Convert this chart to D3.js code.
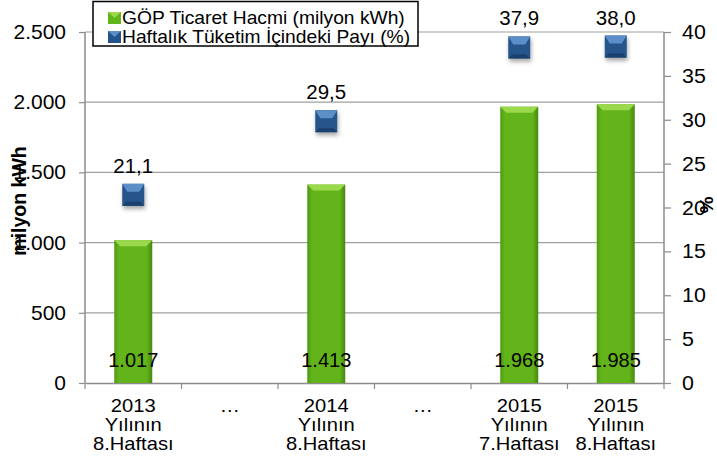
<!DOCTYPE html>
<html><head><meta charset="utf-8">
<script src="https://cdn.jsdelivr.net/npm/d3@7"></script>
<style>html,body{margin:0;padding:0;background:#fff;} svg{display:block;font-family:"Liberation Sans",Arial,sans-serif;}</style>
</head><body>
<svg id="c" width="717" height="457"></svg>
<script>
const categories = [["2013","Yılının","8.Haftası"],["…"],["2014","Yılının","8.Haftası"],["…"],["2015","Yılının","7.Haftası"],["2015","Yılının","8.Haftası"]];
const volume = [1017, null, 1413, null, 1968, 1985];
const share = [21.1, null, 29.5, null, 37.9, 38.0];
const leftTicks = [0,500,1000,1500,2000,2500];
const rightTicks = [0,5,10,15,20,25,30,35,40];
const seriesNames = ["GÖP Ticaret Hacmi (milyon kWh)", "Haftalık Tüketim İçindeki Payı (%)"];

const svg = d3.select("#c");
const m = {l:85, r:664, t:32, b:383};
const x = d3.scaleBand().domain(d3.range(categories.length)).range([m.l, m.r]).paddingInner(0).paddingOuter(0);
const yL = d3.scaleLinear().domain([0,2500]).range([m.b, m.t]);
const yR = d3.scaleLinear().domain([0,40]).range([m.b, m.t]);
const fmtInt = v => d3.format(",")(v).replace(/,/g,".");
const fmtDec = v => d3.format(".1f")(v).replace(".",",");

function txt(g, px, py, s, size, anchor, sx){
  return g.append("text").attr("transform",`translate(${px},${py}) scale(${sx||1},1)`)
    .attr("x",0).attr("y",0).attr("text-anchor",anchor||"start").attr("font-size",size).attr("fill","#000").text(s);
}

const defs = svg.append("defs");
const gg = defs.append("linearGradient").attr("id","gbar").attr("x1","0").attr("x2","1").attr("y1","0").attr("y2","0");
gg.append("stop").attr("offset","0").attr("stop-color","#4f9a12");
gg.append("stop").attr("offset","0.12").attr("stop-color","#62b41a");
gg.append("stop").attr("offset","0.85").attr("stop-color","#62b41a");
gg.append("stop").attr("offset","1").attr("stop-color","#47880f");
const sh = defs.append("filter").attr("id","shadow").attr("x","-50%").attr("y","-50%").attr("width","200%").attr("height","200%");
sh.append("feDropShadow").attr("dx",1).attr("dy",3).attr("stdDeviation",2).attr("flood-color","#000").attr("flood-opacity",0.35);

// gridlines
svg.append("g").selectAll("line").data(leftTicks.filter(d=>d>0)).join("line")
  .attr("x1",m.l).attr("x2",m.r).attr("y1",d=>yL(d)).attr("y2",d=>yL(d))
  .attr("stroke","#a0a0a0").attr("stroke-width",1.2);

// axes
const axL = svg.append("g").attr("transform",`translate(${m.l},0)`)
  .call(d3.axisLeft(yL).tickValues(leftTicks).tickFormat("").tickSize(6));
const axR = svg.append("g").attr("transform",`translate(${m.r},0)`)
  .call(d3.axisRight(yR).tickValues(rightTicks).tickFormat("").tickSize(7));
const axB = svg.append("g").attr("transform",`translate(0,${m.b})`)
  .call(d3.axisBottom(x).tickValues([]).tickSizeOuter(0));
svg.append("g").selectAll("line").data(d3.range(categories.length+1)).join("line")
  .attr("x1",i=>m.l + i*x.step()).attr("x2",i=>m.l + i*x.step())
  .attr("y1",m.b).attr("y2",m.b+6).attr("stroke","#8c8c8c").attr("stroke-width",1.2);
[axL,axR,axB].forEach(a=>{
  a.selectAll("path.domain").attr("stroke","#8c8c8c").attr("stroke-width",1.5);
  a.selectAll(".tick line").attr("stroke","#8c8c8c").attr("stroke-width",1.2);
});
axL.select("path.domain").attr("d",`M0,${m.b}V${m.t}`);
axR.select("path.domain").attr("d",`M0,${m.b}V${m.t}`);

const tl = svg.append("g");
leftTicks.forEach(v=>txt(tl, 66, yL(v)+7, fmtInt(v), 20, "end", 1.05));
rightTicks.forEach(v=>txt(tl, 682, yR(v)+7, String(v), 20, "start", 1.07));

// category labels
const cl = svg.append("g");
categories.forEach((lines,i)=>{
  const cx = x(i)+x.bandwidth()/2;
  lines.forEach((s,j)=>txt(cl, cx, 412+j*19, s, 18, "middle", 1.12));
});

// bars
const bw = 38;
const bars = svg.append("g");
volume.forEach((v,i)=>{
  if(v==null) return;
  const cx = x(i)+x.bandwidth()/2, y0 = yL(v), h = yL(0)-yL(v);
  bars.append("rect").attr("x",cx-bw/2).attr("y",y0).attr("width",bw).attr("height",h).attr("fill","url(#gbar)");
  bars.append("path").attr("d",`M${cx-bw/2},${y0}H${cx+bw/2}L${cx+bw/2-6},${y0+6}H${cx-bw/2+6}Z`).attr("fill","#9ad84c");
});
volume.forEach((v,i)=>{
  if(v==null) return;
  txt(bars, x(i)+x.bandwidth()/2, yL(0)-16, fmtInt(v), 20, "middle", 1.0);
});

// markers
const mk = svg.append("g");
const ms = 22;
share.forEach((v,i)=>{
  if(v==null) return;
  const cx = x(i)+x.bandwidth()/2, cy = yR(v)-3;
  const g = mk.append("g").attr("filter","url(#shadow)");
  g.append("rect").attr("x",cx-ms/2).attr("y",cy-ms/2).attr("width",ms).attr("height",ms).attr("fill","#25548c");
  g.append("path").attr("d",`M${cx-ms/2},${cy-ms/2}H${cx+ms/2}L${cx+ms/2-5},${cy-ms/2+8}H${cx-ms/2+5}Z`).attr("fill","#5c8fc8");
  g.append("path").attr("d",`M${cx-ms/2},${cy+ms/2}H${cx+ms/2}L${cx+ms/2-4},${cy+ms/2-4}H${cx-ms/2+4}Z`).attr("fill","#1b3f6e");
  txt(mk, cx, cy-22, fmtDec(v), 19.5, "middle", 1.05);
});

// axis titles
svg.append("text").attr("transform",`translate(26,201) rotate(-90)`).attr("text-anchor","middle")
  .attr("font-size",19.5).attr("font-weight","bold").text("milyon kWh");
svg.append("text").attr("transform",`translate(700,205) rotate(90)`).attr("text-anchor","middle")
  .attr("font-size",19).attr("font-weight","bold").text("%");

// legend
const lg = svg.append("g");
lg.append("rect").attr("x",93).attr("y",1.5).attr("width",325).attr("height",44.5).attr("fill","#fff").attr("stroke","#000").attr("stroke-width",1.5);
const lcol = [["#62b41a","#9ad84c"],["#25548c","#5c8fc8"]];
seriesNames.forEach((n,i)=>{
  const base = 24 + i*19;
  lg.append("rect").attr("x",108).attr("y",base-12).attr("width",13).attr("height",12).attr("fill",lcol[i][0]);
  lg.append("path").attr("d",`M108,${base-12}H121L114.5,${base-6}Z`).attr("fill",lcol[i][1]);
  txt(lg, 122, base, n, 18.5, "start", 1.04);
});
</script>
</body></html>
